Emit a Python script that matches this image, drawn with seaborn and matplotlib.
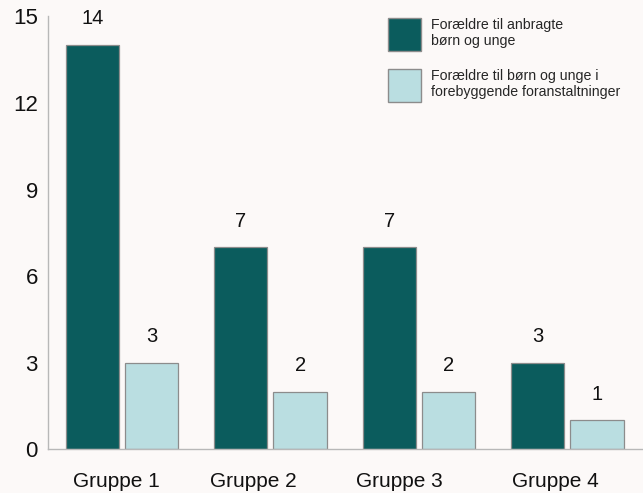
import numpy as np
import pandas as pd
import matplotlib
matplotlib.use("Agg")
import matplotlib.pyplot as plt
import matplotlib.transforms as mtransforms
import seaborn as sns

# ---- data ----
groups = ["Gruppe 1", "Gruppe 2", "Gruppe 3", "Gruppe 4"]
series_names = ["Forældre til anbragte\nbørn og unge",
                "Forældre til børn og unge i\nforebyggende foranstaltninger"]
anbragte = [14, 7, 7, 3]
forebyggende = [3, 2, 2, 1]
y_ticks = [0, 3, 6, 9, 12, 15]

# ---- style ----
BG = "#fcf9f8"
DARK = "#0b5c5d"
LIGHT = "#badee1"
EDGE = "#8c8c8c"
AXIS = "#b8b8b8"

sns.set_theme(style="white")
plt.rcParams["font.family"] = ["Liberation Sans", "DejaVu Sans"]

df = pd.DataFrame({
    "gruppe": groups * 2,
    "antal": anbragte + forebyggende,
    "serie": [series_names[0]] * len(groups) + [series_names[1]] * len(groups),
})

fig = plt.figure(figsize=(6.43, 4.93), dpi=100, facecolor=BG)
ax = fig.add_axes([47.7 / 643, (493 - 449.3) / 493, 594 / 643, 433 / 493])
ax.set_facecolor(BG)

sns.barplot(data=df, x="gruppe", y="antal", hue="serie", order=groups,
            hue_order=series_names, palette=[DARK, LIGHT], saturation=1,
            gap=0.1, edgecolor=EDGE, linewidth=0.9, ax=ax, legend=True)

ax.set_xlim(-0.5, 3.5)
ax.set_ylim(0, 15)
ax.set_xlabel("")
ax.set_ylabel("")
ax.set_yticks(y_ticks)

for s in ["top", "right"]:
    ax.spines[s].set_visible(False)
for s in ["left", "bottom"]:
    ax.spines[s].set_color(AXIS)
    ax.spines[s].set_linewidth(1.0)

ax.tick_params(axis="y", direction="in", length=10, width=1, color=AXIS,
               labelsize=16, pad=7, labelcolor="#111111")
ax.tick_params(axis="x", which="major", length=0, labelsize=15, pad=16,
               labelcolor="#111111")
ax.set_xticks([0.5, 1.5, 2.5, 3.5], minor=True)
ax.tick_params(axis="x", which="minor", direction="in", length=7, width=1,
               color=AXIS)

# per-label horizontal shift (pixels) as in the reference layout
label_shift_px = [-5.6, -16.7, -19.5, -12.0]
for lab, dx in zip(ax.get_xticklabels(), label_shift_px):
    lab.set_transform(lab.get_transform() +
                      mtransforms.ScaledTranslation(dx / 100, 0, fig.dpi_scale_trans))

for cont in ax.containers:
    ax.bar_label(cont, fmt="%d", padding=12, fontsize=14.5, color="#111111")

handles, labels = ax.get_legend_handles_labels()
ax.get_legend().remove()
for h in handles:
    h.set_edgecolor(EDGE)
    h.set_linewidth(1.0)
LFS = 10.2
ax.legend(handles, labels, loc="upper left",
          bbox_to_anchor=(387.7 / 643, 1 - 18.3 / 493),
          bbox_transform=fig.transFigure, frameon=False, fontsize=LFS,
          handlelength=23.8 / LFS, handleheight=(23.8 / LFS - 0.245) / 0.65,
          handletextpad=0.69, labelspacing=1.24, borderpad=0, borderaxespad=0)

fig.savefig("out.png", dpi=100, facecolor=BG)
